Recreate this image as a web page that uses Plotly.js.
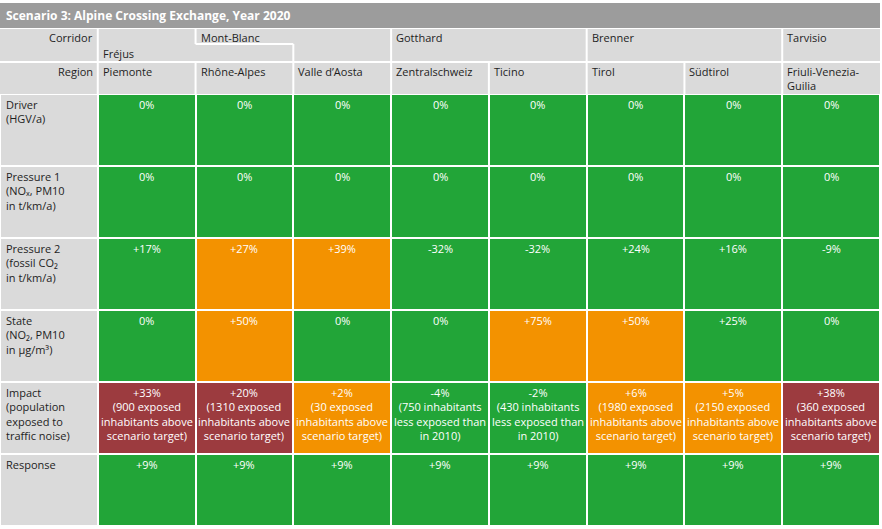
<!DOCTYPE html>
<html><head><meta charset="utf-8">
<script src="https://cdn.plot.ly/plotly-3.0.1.min.js"></script>
<style>html,body{margin:0;padding:0;background:#fff;} #chart{width:882px;height:529px;}</style>
</head><body><div id="chart"></div>
<script>
// ---------- data ----------
const chartTitle = 'Scenario 3: Alpine Crossing Exchange, Year 2020';
const corridors = ['Fréjus', 'Mont-Blanc', 'Gotthard', 'Brenner', 'Tarvisio'];
const corridorRegionCount = [1, 2, 2, 2, 1];
const regions = ['Piemonte', 'Rhône-Alpes', 'Valle d’Aosta', 'Zentralschweiz', 'Ticino', 'Tirol', 'Südtirol', 'Friuli-Venezia-<br>Guilia'];
const indicators = [
  'Driver<br>(HGV/a)',
  'Pressure 1<br>(NOₓ, PM10<br>in t/km/a)',
  'Pressure 2<br>(fossil CO₂<br>in t/km/a)',
  'State<br>(NO₂, PM10<br>in µg/m³)',
  'Impact<br>(population<br>exposed to<br>traffic noise)',
  'Response'
];
const driverChange    = [0, 0, 0, 0, 0, 0, 0, 0];
const pressure1Change = [0, 0, 0, 0, 0, 0, 0, 0];
const pressure2Change = [17, 27, 39, -32, -32, 24, 16, -9];
const stateChange     = [0, 50, 0, 0, 75, 50, 25, 0];
const impactChange    = [33, 20, 2, -4, -2, 6, 5, 38];
const impactInhabitants = [900, 1310, 30, 750, 430, 1980, 2150, 360];
const responseChange  = [9, 9, 9, 9, 9, 9, 9, 9];

const driverStatus    = ['ok','ok','ok','ok','ok','ok','ok','ok'];
const pressure1Status = ['ok','ok','ok','ok','ok','ok','ok','ok'];
const pressure2Status = ['ok','warn','warn','ok','ok','ok','ok','ok'];
const stateStatus     = ['ok','warn','ok','ok','warn','warn','ok','ok'];
const impactStatus    = ['bad','bad','warn','ok','ok','warn','warn','bad'];
const responseStatus  = ['ok','ok','ok','ok','ok','ok','ok','ok'];

// ---------- styling / layout constants ----------
const COL = {label: '#dadada', ok: '#22a538', warn: '#f39200', bad: '#9c3b3f', title: '#9c9c9c', line: '#ffffff'};
const FONT = 'Open Sans, Noto Sans, DejaVu Sans, sans-serif';
const FS = 11;
const headerRowH = [33, 32];
const bodyRowH = 72;

const changes = [driverChange, pressure1Change, pressure2Change, stateChange, impactChange, responseChange];
const statuses = [driverStatus, pressure1Status, pressure2Status, stateStatus, impactStatus, responseStatus];
const statusCode = {label: 0, ok: 1, warn: 2, bad: 3};

const nCols = regions.length + 1;
const headerH = headerRowH[0] + headerRowH[1];
const yEdges = [headerH];
indicators.forEach(() => yEdges.push(yEdges[yEdges.length - 1] + bodyRowH));
const xEdges = [];
for (let i = 0; i <= nCols; i++) xEdges.push(i);
const totalH = yEdges[yEdges.length - 1];

function fmt(v) { return (v > 0 ? '+' : '') + v + '%'; }

const z = statuses.map(row => [statusCode.label].concat(row.map(s => statusCode[s])));

const trace = {
  type: 'heatmap', x: xEdges, y: yEdges, z: z,
  zmin: 0, zmax: 3, showscale: false, hoverinfo: 'skip',
  xgap: 2, ygap: 2,
  colorscale: [[0, COL.label], [0.25, COL.label], [0.25, COL.ok], [0.5, COL.ok],
               [0.5, COL.warn], [0.75, COL.warn], [0.75, COL.bad], [1, COL.bad]]
};

const annotations = [];
const shapes = [];
// title bar
shapes.push({type: 'rect', xref: 'x', yref: 'y', x0: 0, x1: nCols, y0: -26, y1: -1, fillcolor: COL.title, line: {width: 0}, layer: 'below'});
annotations.push({x: 0, y: -13.5, xref: 'x', yref: 'y', xanchor: 'left', yanchor: 'middle', xshift: 4, showarrow: false,
  text: '<b>' + chartTitle + '</b>', font: {family: FONT, size: 12, color: '#ffffff'}});
// header background
shapes.push({type: 'rect', x0: 0, x1: nCols, y0: 0, y1: headerH, fillcolor: COL.label, line: {width: 0}, layer: 'below'});
const wl = {color: COL.line, width: 2};
shapes.push({type: 'line', x0: 0, x1: nCols, y0: headerRowH[0], y1: headerRowH[0], line: wl});
for (let i = 1; i < nCols; i++) shapes.push({type: 'line', x0: i, x1: i, y0: headerRowH[0], y1: headerH, line: wl});
let start = 1;
const corridorStart = [];
corridorRegionCount.forEach(n => { corridorStart.push(start); start += n; });
const notchY = 15;
corridorStart.forEach((s, k) => {
  if (corridors[k] === 'Mont-Blanc') {
    shapes.push({type: 'line', x0: s, x1: s, y0: 0, y1: notchY, line: wl});
    shapes.push({type: 'line', x0: s, x1: s + 1, y0: notchY, y1: notchY, line: wl});
    shapes.push({type: 'line', x0: s + 1, x1: s + 1, y0: notchY, y1: headerRowH[0], line: wl});
  } else {
    shapes.push({type: 'line', x0: s, x1: s, y0: 0, y1: headerRowH[0], line: wl});
  }
});

const dark = '#1e1e1e';
function ann(o) {
  return Object.assign({xref: 'x', yref: 'y', showarrow: false, yanchor: 'top', font: {family: FONT, size: FS, color: dark}}, o);
}
annotations.push(ann({x: 1, y: 0, yshift: 1.5, xanchor: 'right', xshift: -3, text: 'Corridor'}));
annotations.push(ann({x: 1, y: headerRowH[0] + 1, yshift: 1.5, xanchor: 'right', xshift: -3, text: 'Region'}));
corridors.forEach((c, k) => {
  const lower = c === 'Fréjus';
  annotations.push(ann({x: corridorStart[k], y: lower ? notchY + 1 : 0, yshift: 1.5, xanchor: 'left', xshift: 3, text: c}));
});
regions.forEach((r, k) => {
  annotations.push(ann({x: k + 1, y: headerRowH[0] + 1, yshift: 1.5, xanchor: 'left', xshift: 3, align: 'left', text: r}));
});
indicators.forEach((t, r) => {
  annotations.push(ann({x: 0, y: yEdges[r] + 1, yshift: 0.5, xanchor: 'left', xshift: 4, align: 'left', text: t}));
  changes[r].forEach((v, c) => {
    let txt = fmt(v);
    if (r === 4) {
      const n = impactInhabitants[c];
      txt += v < 0 ? '<br>(' + n + ' inhabitants<br>less exposed than<br>in 2010)'
                   : '<br>(' + n + ' exposed<br>inhabitants above<br>scenario target)';
    }
    annotations.push(ann({x: c + 1.5, y: yEdges[r] + 1, xanchor: 'center', align: 'center', text: txt,
      font: {family: FONT, size: FS, color: '#ffffff'}}));
  });
});

const layout = {
  width: 882, height: 529,
  margin: {l: 0, r: 2, t: 2, b: 3, pad: 0},
  paper_bgcolor: '#ffffff', plot_bgcolor: '#ffffff',
  xaxis: {range: [0, nCols], showgrid: false, zeroline: false, showticklabels: false, ticks: '', fixedrange: true},
  yaxis: {range: [totalH, -27], showgrid: false, zeroline: false, showticklabels: false, ticks: '', fixedrange: true},
  shapes: shapes, annotations: annotations, showlegend: false
};
Plotly.newPlot('chart', [trace], layout, {displayModeBar: false, staticPlot: true});
</script></body></html>
